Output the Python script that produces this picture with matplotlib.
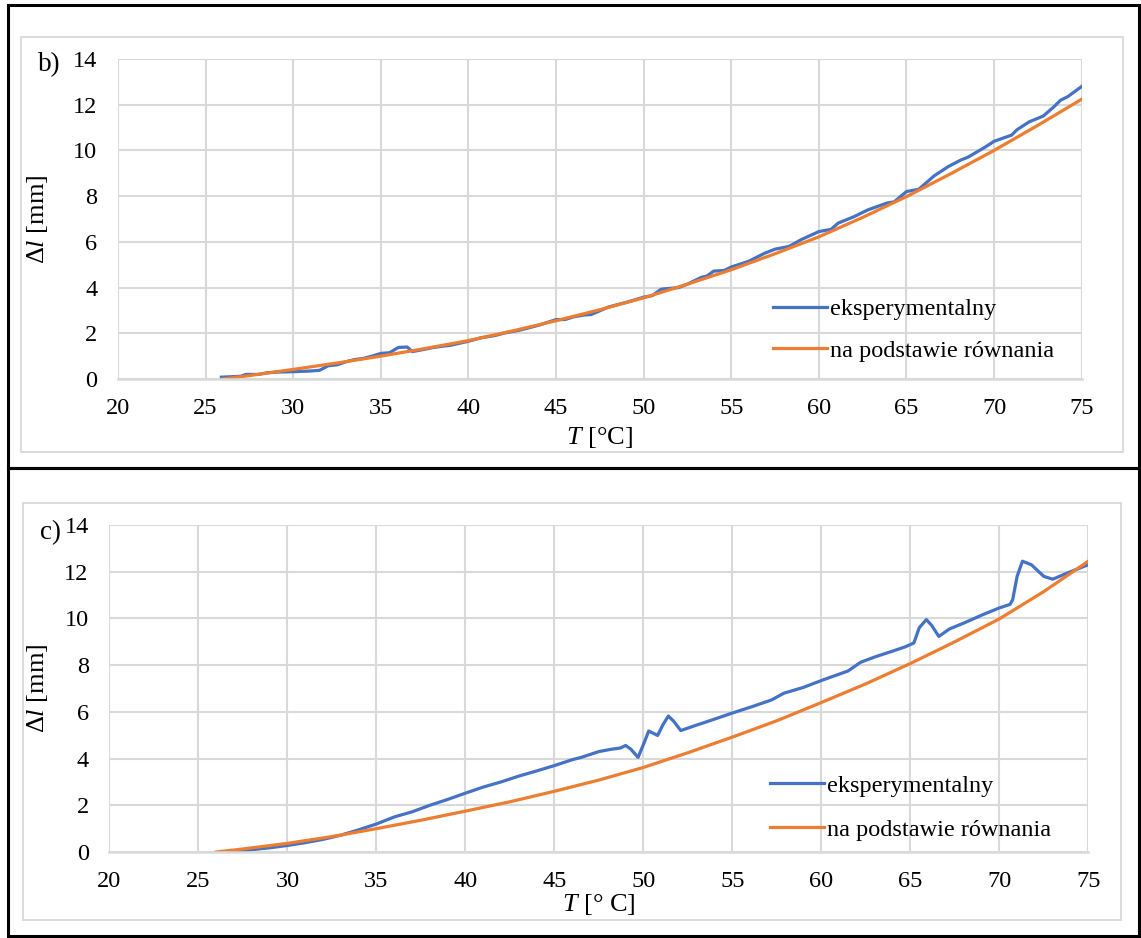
import matplotlib
matplotlib.use('Agg')
import matplotlib.pyplot as plt
from matplotlib.patches import Rectangle

plt.rcParams['font.family'] = ['Liberation Serif', 'DejaVu Serif']
plt.rcParams['mathtext.fontset'] = 'custom'
plt.rcParams['mathtext.rm'] = 'Liberation Serif'
plt.rcParams['mathtext.it'] = 'Liberation Serif:italic'

# --- data: panel b) ---
b_exp_T = [25.9, 26.5, 27.0, 27.3, 28.0, 28.5, 29.0, 30.0, 31.0, 31.5, 32.0, 32.5,
           33.0, 33.5, 34.0, 34.5, 35.0, 35.5, 36.0, 36.5, 36.8, 37.5, 38.0, 39.0,
           40.0, 40.7, 41.5, 42.0, 43.0, 44.0, 45.0, 45.5, 46.0, 46.6, 47.0, 48.0,
           49.0, 50.0, 50.5, 51.0, 52.0, 52.5, 53.3, 53.6, 54.0, 54.6, 55.0, 56.0,
           56.9, 57.5, 58.3, 59.0, 60.0, 60.7, 61.1, 62.0, 62.8, 63.9, 64.3, 65.0,
           65.7, 66.6, 67.4, 68.1, 68.5, 69.5, 70.0, 71.0, 71.3, 72.0, 72.8, 73.4,
           73.8, 74.2, 75.0]
b_exp_dl = [0.08, 0.10, 0.12, 0.20, 0.20, 0.27, 0.30, 0.32, 0.35, 0.38, 0.58, 0.62,
            0.75, 0.85, 0.90, 1.00, 1.12, 1.15, 1.38, 1.40, 1.20, 1.30, 1.38, 1.48,
            1.65, 1.80, 1.90, 2.00, 2.15, 2.35, 2.60, 2.60, 2.72, 2.80, 2.82, 3.15,
            3.35, 3.58, 3.65, 3.93, 4.00, 4.15, 4.45, 4.50, 4.72, 4.75, 4.90, 5.15,
            5.50, 5.68, 5.80, 6.10, 6.45, 6.55, 6.82, 7.10, 7.40, 7.70, 7.75, 8.20,
            8.30, 8.90, 9.30, 9.58, 9.70, 10.15, 10.40, 10.67, 10.90, 11.25, 11.50, 11.90,
            12.20, 12.35, 12.80]
b_eq_T = [26.0, 27.5, 30.0, 32.5, 35.0, 37.5, 40.0, 42.5, 45.0, 47.5, 50.0,
          52.5, 55.0, 57.5, 60.0, 62.5, 65.0, 67.5, 70.0, 72.5, 75.0]
b_eq_dl = [0.0, 0.15, 0.42, 0.70, 1.00, 1.33, 1.68, 2.10, 2.55, 3.03, 3.55,
           4.15, 4.78, 5.48, 6.22, 7.07, 7.98, 8.97, 10.00, 11.10, 12.24]

# --- data: panel c) ---
c_exp_T = [26.8, 28.0, 29.0, 30.0, 31.0, 32.0, 33.0, 34.0, 35.0, 36.0, 37.0, 38.0,
           39.0, 40.0, 41.0, 42.0, 43.0, 44.0, 45.0, 46.0, 46.5, 47.5, 48.2, 48.7,
           49.0, 49.3, 49.7, 50.0, 50.3, 50.8, 51.1, 51.4, 51.7, 52.1, 52.9, 54.0,
           55.0, 56.25, 57.2, 57.9, 59.0, 60.1, 61.5, 62.2, 63.0, 64.0, 64.7, 65.2,
           65.5, 65.9, 66.2, 66.6, 67.2, 68.0, 69.1, 70.0, 70.6, 70.75, 71.0, 71.3,
           71.8, 72.5, 73.0, 74.0, 75.0]
c_exp_dl = [-0.03, 0.10, 0.18, 0.28, 0.40, 0.54, 0.72, 0.95, 1.20, 1.50, 1.72, 2.00,
            2.25, 2.52, 2.78, 3.00, 3.25, 3.47, 3.70, 3.95, 4.05, 4.30, 4.40, 4.45,
            4.56, 4.40, 4.05, 4.60, 5.18, 4.99, 5.45, 5.82, 5.60, 5.20, 5.41, 5.69,
            5.95, 6.26, 6.51, 6.80, 7.05, 7.37, 7.75, 8.12, 8.35, 8.60, 8.78, 8.95,
            9.60, 9.95, 9.70, 9.23, 9.55, 9.80, 10.17, 10.45, 10.60, 10.80, 11.80, 12.45,
            12.30, 11.80, 11.68, 12.00, 12.30]
c_eq_T = [26.0, 27.5, 30.0, 32.5, 35.0, 37.5, 40.0, 42.5, 45.0, 47.5, 50.0,
          52.5, 55.0, 57.5, 60.0, 62.5, 65.0, 67.5, 70.0, 72.5, 75.0]
c_eq_dl = [0.0, 0.13, 0.37, 0.66, 1.00, 1.36, 1.75, 2.15, 2.60, 3.08, 3.62,
           4.25, 4.92, 5.62, 6.40, 7.20, 8.07, 9.00, 9.98, 11.15, 12.45]

x_ticks = list(range(20, 80, 5))
y_ticks = list(range(0, 16, 2))
series_names = ['eksperymentalny', 'na podstawie równania']
blue = '#4472C4'
orange = '#ED7D31'
grid_c = '#D9D9D9'
W, H = 1141, 938
FS = 17.5

fig = plt.figure(figsize=(W / 100, H / 100), dpi=100)


def fx(px):
    return px / W


def fy(py):
    return 1 - py / H


def panel(box, T1, d1, T2, d2, tag, xlabel, legend_xy, lspace, lab_y, tag_xy, xlab_y):
    l, t, r, b = box
    ax = fig.add_axes([fx(l), fy(b), fx(r) - fx(l), fy(t) - fy(b)])
    ax.plot(T1, d1, color=blue, lw=2.3, label=series_names[0], solid_joinstyle='round')
    ax.plot(T2, d2, color=orange, lw=2.3, label=series_names[1])
    ax.set_xlim(20, 75)
    ax.set_ylim(0, 14)
    ax.set_xticks(x_ticks)
    ax.set_yticks(y_ticks)
    ax.grid(True, color=grid_c, lw=1.5)
    ax.set_axisbelow(True)
    for s in ['top', 'right', 'left']:
        ax.spines[s].set_visible(False)
    ax.spines['bottom'].set_color(grid_c)
    ax.spines['bottom'].set_linewidth(1.8)
    ax.tick_params(length=0, labelsize=FS)
    ax.tick_params(axis='x', pad=14)
    ax.tick_params(axis='y', pad=15)
    ax.legend(loc='upper left', bbox_to_anchor=legend_xy, frameon=False,
              fontsize=FS, handlelength=2.2, handletextpad=0.15,
              labelspacing=lspace, borderpad=0, borderaxespad=0)
    fig.text(fx(37), fy(lab_y), r'$\Delta l$ [mm]', rotation=90,
             ha='center', va='center', fontsize=19)
    fig.text(fx((l + r) / 2), fy(xlab_y), xlabel, ha='center', va='center', fontsize=19)
    fig.text(fx(tag_xy[0]), fy(tag_xy[1]), tag, ha='left', va='center', fontsize=19.5)
    return ax


panel((118, 59, 1081.7, 379), b_exp_T, b_exp_dl, b_eq_T, b_eq_dl, 'b)',
      r'$T$ [°C]', (0.68, 0.252), 0.8, 219, (38, 65), 437)
panel((109.5, 525, 1088.3, 852), c_exp_T, c_exp_dl, c_eq_T, c_eq_dl, 'c)',
      r'$T$ [° C]', (0.675, 0.236), 0.9, 688, (40, 533), 904)

# gray chart-area frames
fig.add_artist(Rectangle((fx(21), fy(452)), fx(1123) - fx(21), fy(37) - fy(452),
                         fill=False, ec=grid_c, lw=1.3, transform=fig.transFigure))
fig.add_artist(Rectangle((fx(23), fy(920)), fx(1121) - fx(23), fy(503) - fy(920),
                         fill=False, ec=grid_c, lw=1.3, transform=fig.transFigure))
# black table borders
for (y0, y1) in [(5.5, 468.5), (468.5, 935.5)]:
    fig.add_artist(Rectangle((fx(7.5), fy(y1)), fx(1139) - fx(7.5), fy(y0) - fy(y1),
                             fill=False, ec='black', lw=2.2, transform=fig.transFigure))

fig.savefig('out.png', dpi=100)
